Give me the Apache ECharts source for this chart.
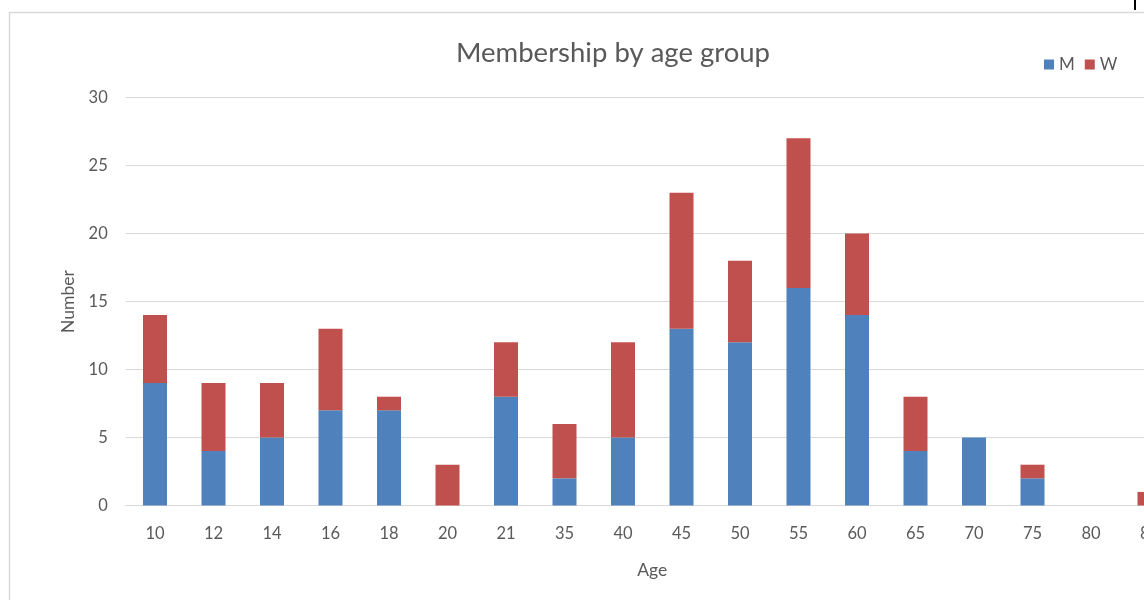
<!DOCTYPE html>
<html><head><meta charset="utf-8">
<script src="https://cdn.jsdelivr.net/npm/echarts@6/dist/echarts.min.js"></script>
<style>html,body{margin:0;padding:0;background:#fff;overflow:hidden;width:1144px;height:600px}#c{width:1220px;height:600px}</style>
</head><body><div id="c"></div>
<script>
const categories = ['10','12','14','16','18','20','21','35','40','45','50','55','60','65','70','75','80','85'];
const seriesM = [9,4,5,7,7,0,8,2,5,13,12,16,14,4,5,2,0,0];
const seriesW = [5,5,4,6,1,3,4,4,7,10,6,11,6,4,0,1,0,1];
const yTicks = [0,5,10,15,20,25,30];

const chart = echarts.init(document.getElementById('c'), null, {renderer:'canvas'});
const font = 'Lato, "Open Sans", sans-serif';
const txt = '#595959';
chart.setOption({
  animation:false,
  textStyle:{fontFamily:font},
  title:{text:'Membership by age group', left:608, textAlign:'center', top:34,
    textStyle:{fontFamily:font, fontSize:27.5, fontWeight:'normal', color:txt}},
  legend:{data:['M','W'], left:1039, top:51, itemWidth:10, itemHeight:10, itemGap:10,
    icon:'rect', textStyle:{fontFamily:font, fontSize:17, color:txt}},
  grid:{left:125.75, top:97.5, width:1053, height:408, containLabel:false},
  xAxis:{type:'category', data:categories, name:'Age', nameLocation:'middle', nameGap:56,
    nameTextStyle:{fontFamily:font, fontSize:17.5, color:txt},
    axisTick:{show:false}, axisLine:{lineStyle:{color:'#d9d9d9', width:1}},
    axisLabel:{fontFamily:font, fontSize:16.5, color:txt, margin:20}},
  yAxis:{type:'value', min:0, max:30, interval:5, name:'Number', nameLocation:'middle', nameGap:42,
    nameTextStyle:{fontFamily:font, fontSize:17.5, color:txt},
    axisLine:{show:false}, axisTick:{show:false},
    axisLabel:{fontFamily:font, fontSize:16.5, color:txt, margin:18,
      formatter:function(v){return yTicks.indexOf(v)>=0?String(v):'';}},
    splitLine:{lineStyle:{color:'#d9d9d9', width:1}}},
  series:[
    {name:'M', type:'bar', stack:'a', data:seriesM, barWidth:24, itemStyle:{color:'#4F81BD'}},
    {name:'W', type:'bar', stack:'a', data:seriesW, barWidth:24, itemStyle:{color:'#C0504D'}}
  ],
  graphic:[
    {type:'rect', shape:{x:9.5, y:12.5, width:1300, height:700}, style:{fill:null, stroke:'#d9d9d9', lineWidth:1.5}, silent:true},
    {type:'line', shape:{x1:1135, y1:0, x2:1135, y2:10}, style:{stroke:'#000', lineWidth:2}, silent:true}
  ]
});
</script></body></html>
